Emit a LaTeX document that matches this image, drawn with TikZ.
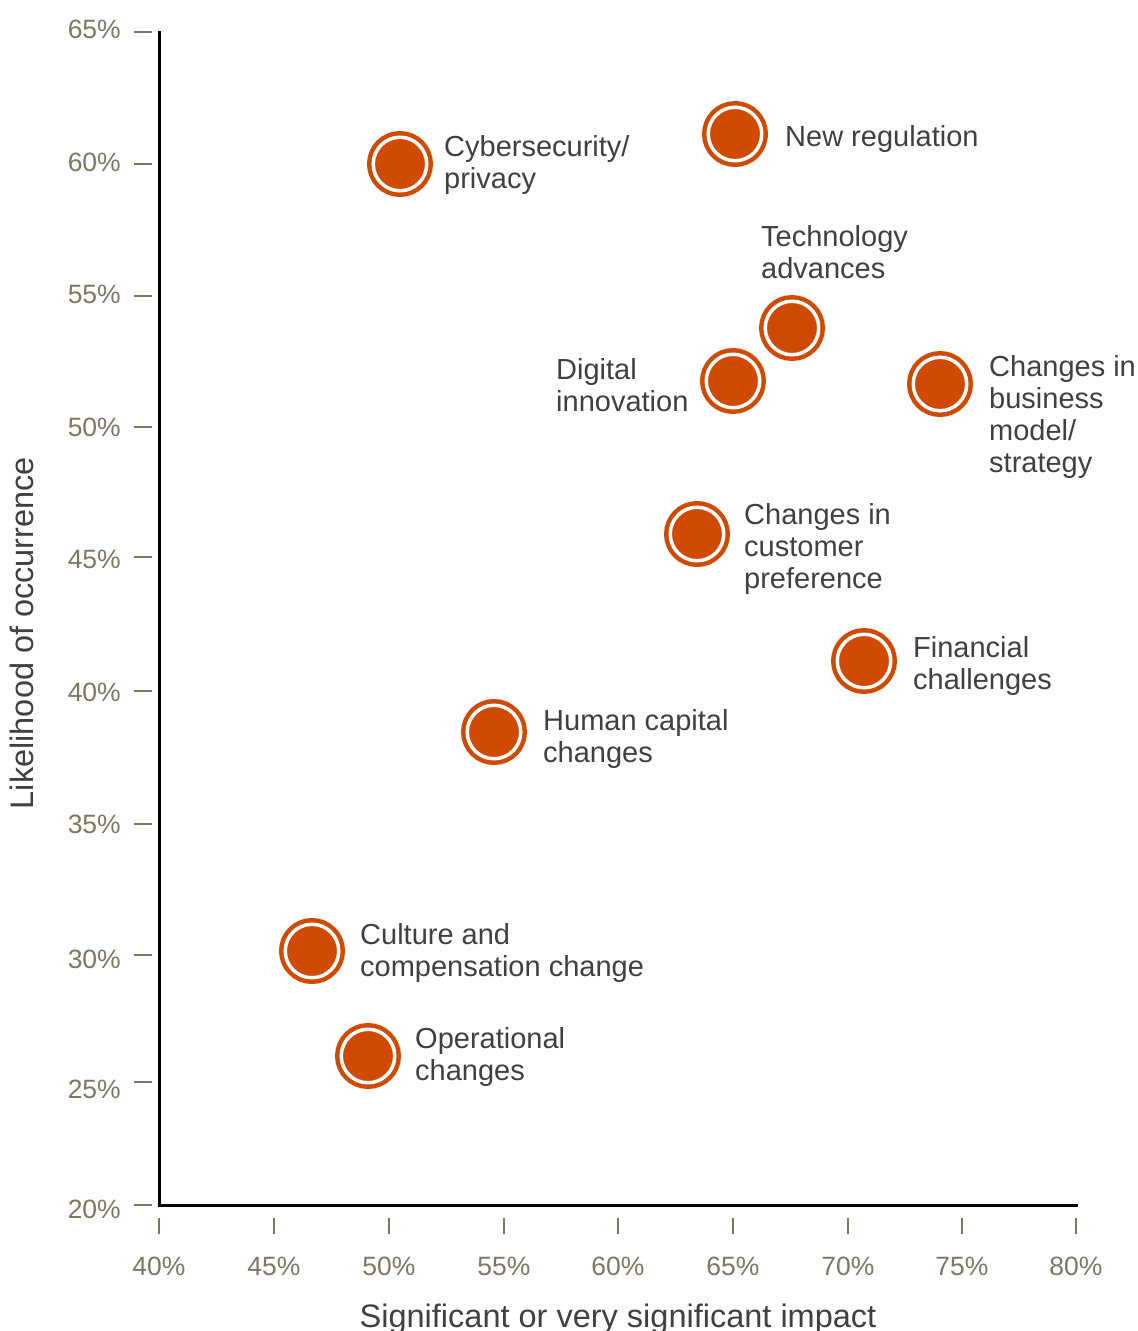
\documentclass[tikz,border=0pt]{standalone}
\usepackage{fontspec}
\setmainfont{Liberation Sans}
\definecolor{pwc}{RGB}{208,74,2}
\definecolor{tickc}{RGB}{126,118,99}
\definecolor{txtc}{RGB}{64,64,64}
\begin{document}
\begin{tikzpicture}[x=1pt,y=-1pt,
  mk/.style={circle, inner sep=0pt, minimum size=53.5pt, fill=pwc, draw=pwc,
             line width=4.5pt, double=white, double distance=3.5pt},
  lbl/.style={anchor=base west, inner sep=0pt, align=left, text=txtc,
              font=\fontsize{29}{32}\selectfont},
  ylab/.style={anchor=base east, inner sep=0pt, text=tickc,
               font=\fontsize{26.5}{30}\selectfont},
  xlab/.style={anchor=base, inner sep=0pt, text=tickc,
               font=\fontsize{26.5}{30}\selectfont},
  tickl/.style={draw=tickc, line width=2.5pt},
  axt/.style={inner sep=0pt, text=txtc, font=\fontsize{32.5}{38}\selectfont}
]
\useasboundingbox (0,0) rectangle (1138,1331);

% axes
\coordinate (top) at (159,32);
\coordinate (org) at (159,1205);
\coordinate (rgt) at (1076,1205);
\draw[line width=3pt, line cap=rect] (top) -- (org) -- (rgt);

% y ticks and labels
\foreach \t/\ly/\lab in {32/38/65\%, 164/171/60\%, 296/303.5/55\%, 427/436.5/50\%,
                        557/568.5/45\%, 691/701.5/40\%, 824/833.5/35\%, 955/968.5/30\%,
                        1082/1098.5/25\%, 1205/1218.5/20\%}{
  \draw[tickl] (134,\t) -- (152,\t);
  \node[ylab] (yl\t) at (121,\ly) {\lab};
}
% x ticks and labels
\foreach \t/\lab in {159/40\%, 274/45\%, 389/50\%, 504/55\%, 618/60\%,
                    733/65\%, 848/70\%, 962/75\%, 1076/80\%}{
  \draw[tickl] (\t,1218) -- (\t,1234);
  \node[xlab] (xl\t) at (\t,1275) {\lab};
}

% axis titles
\node[axt, anchor=base] (xtitle) at (618,1327) {Significant or very significant impact};
\node[axt, rotate=90] (ytitle) at (22,633) {Likelihood of occurrence};

% markers
\node[mk] (cyber) at (400,164) {};
\node[mk] (reg)   at (735,134) {};
\node[mk] (tech)  at (792,328) {};
\node[mk] (dig)   at (733,381) {};
\node[mk] (biz)   at (940,384) {};
\node[mk] (cust)  at (697,534) {};
\node[mk] (fin)   at (864,661) {};
\node[mk] (hum)   at (494,732) {};
\node[mk] (cult)  at (312,951) {};
\node[mk] (oper)  at (368,1056) {};

% labels (anchored at the baseline of the last line)
\node[lbl] (lcyber) at (444,188) {Cybersecurity/\\privacy};
\node[lbl] (lreg)   at (785,146) {New regulation};
\node[lbl] (ltech)  at (761,278) {Technology\\advances};
\node[lbl] (ldig)   at (556,411) {Digital\\innovation};
\node[lbl] (lbiz)   at (989,472) {Changes in\\business\\model/\\strategy};
\node[lbl] (lcust)  at (744,588) {Changes in\\customer\\preference};
\node[lbl] (lfin)   at (913,689) {Financial\\challenges};
\node[lbl] (lhum)   at (543,762) {Human capital\\changes};
\node[lbl] (lcult)  at (360,976) {Culture and\\compensation change};
\node[lbl] (loper)  at (415,1080) {Operational\\changes};
\end{tikzpicture}
\end{document}
